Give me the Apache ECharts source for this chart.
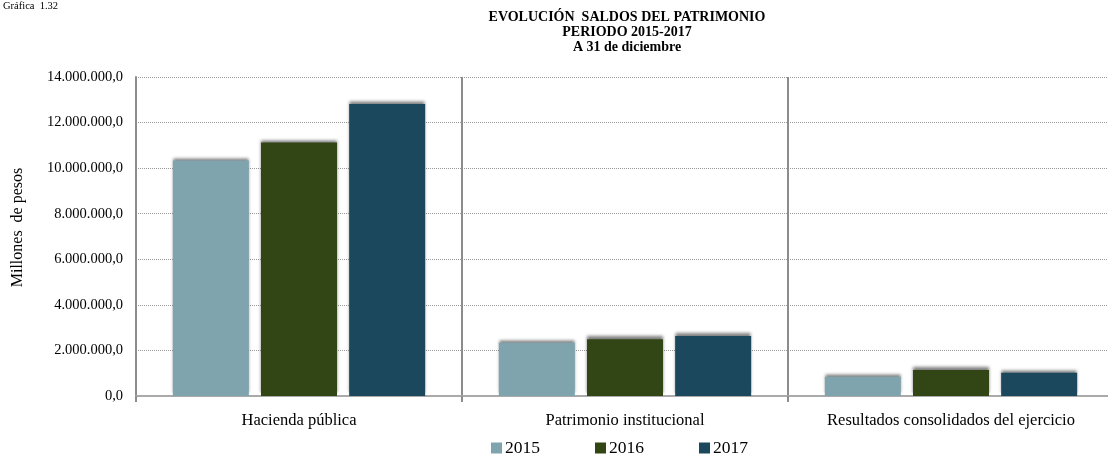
<!DOCTYPE html>
<html>
<head>
<meta charset="utf-8">
<script src="https://cdn.jsdelivr.net/npm/echarts@6/dist/echarts.min.js"></script>
<style>
  html, body { margin: 0; padding: 0; background: #fff; }
  #chart { width: 1108px; height: 457px; }
</style>
</head>
<body>
<div id="chart"></div>
<script>
// datos (millones de pesos)
const categorias = ['Hacienda pública', 'Patrimonio institucional', 'Resultados consolidados del ejercicio'];
const anios = ['2015', '2016', '2017'];
const valores2015 = [10330000, 2340000, 850000];
const valores2016 = [11120000, 2490000, 1140000];
const valores2017 = [12820000, 2630000, 1020000];
const colores = ['#7fa4ad', '#314614', '#1b485c'];

function formatoPesos(v) {
  const partes = v.toFixed(1).split('.');
  return partes[0].replace(/\B(?=(\d{3})+(?!\d))/g, '.') + ',' + partes[1];
}

const fuente = '"Liberation Serif", "Times New Roman", serif';
const myChart = echarts.init(document.getElementById('chart'));

const serieDatos = [valores2015, valores2016, valores2017];

const option = {
  animation: false,
  textStyle: { fontFamily: fuente, color: '#000' },
  color: colores,
  graphic: [
    {
      type: 'text',
      left: 3,
      top: 1,
      style: { text: 'Gráfica  1.32', font: '10.5px ' + fuente, fill: '#000' }
    }
  ],
  title: {
    text: 'EVOLUCIÓN  SALDOS DEL PATRIMONIO\nPERIODO 2015-2017\nA 31 de diciembre',
    left: 622,
    textAlign: 'center',
    top: 5,
    textStyle: {
      fontFamily: fuente,
      fontWeight: 'bold',
      fontSize: 14,
      lineHeight: 15,
      color: '#000'
    }
  },
  legend: {
    top: 434,
    left: 486,
    itemWidth: 11,
    itemHeight: 11,
    itemGap: 55,
    icon: 'rect',
    data: anios,
    textStyle: { fontFamily: fuente, fontSize: 17.5, color: '#000', padding: [0, 0, 0, -2] }
  },
  grid: {
    left: 136,
    width: 978,
    top: 77,
    height: 319,
    outerBoundsMode: 'none'
  },
  xAxis: {
    type: 'category',
    data: categorias,
    axisLine: { show: true, lineStyle: { color: '#aaaaaa', width: 2 } },
    axisTick: { show: true, length: 6, lineStyle: { color: '#8c8c8c', width: 2 } },
    axisLabel: { fontFamily: fuente, fontSize: 16.5, color: '#000', margin: 16 },
    splitLine: { show: true, lineStyle: { color: '#8c8c8c', width: 2 } }
  },
  yAxis: {
    type: 'value',
    min: 0,
    max: 14000000,
    interval: 2000000,
    name: 'Millones  de pesos',
    nameLocation: 'middle',
    nameGap: 110,
    nameRotate: 90,
    nameTextStyle: { fontFamily: fuente, fontSize: 16, color: '#000', padding: [0, 0, 0, 18] },
    axisLine: { show: true, lineStyle: { color: '#8c8c8c', width: 2 } },
    axisTick: { show: false },
    axisLabel: {
      fontFamily: fuente,
      fontSize: 14.5,
      color: '#000',
      margin: 13,
      formatter: formatoPesos
    },
    splitLine: { show: true, lineStyle: { color: '#999', width: 1, type: 'dotted' } }
  },
  series: anios.map((a, i) => ({
    name: a,
    type: 'bar',
    data: serieDatos[i],
    barWidth: 76,
    barGap: '16%',
    itemStyle: {
      color: colores[i],
      shadowColor: 'rgba(0,0,0,0.5)',
      shadowBlur: 3,
      shadowOffsetY: -3
    }
  }))
};

myChart.setOption(option);
</script>
</body>
</html>
